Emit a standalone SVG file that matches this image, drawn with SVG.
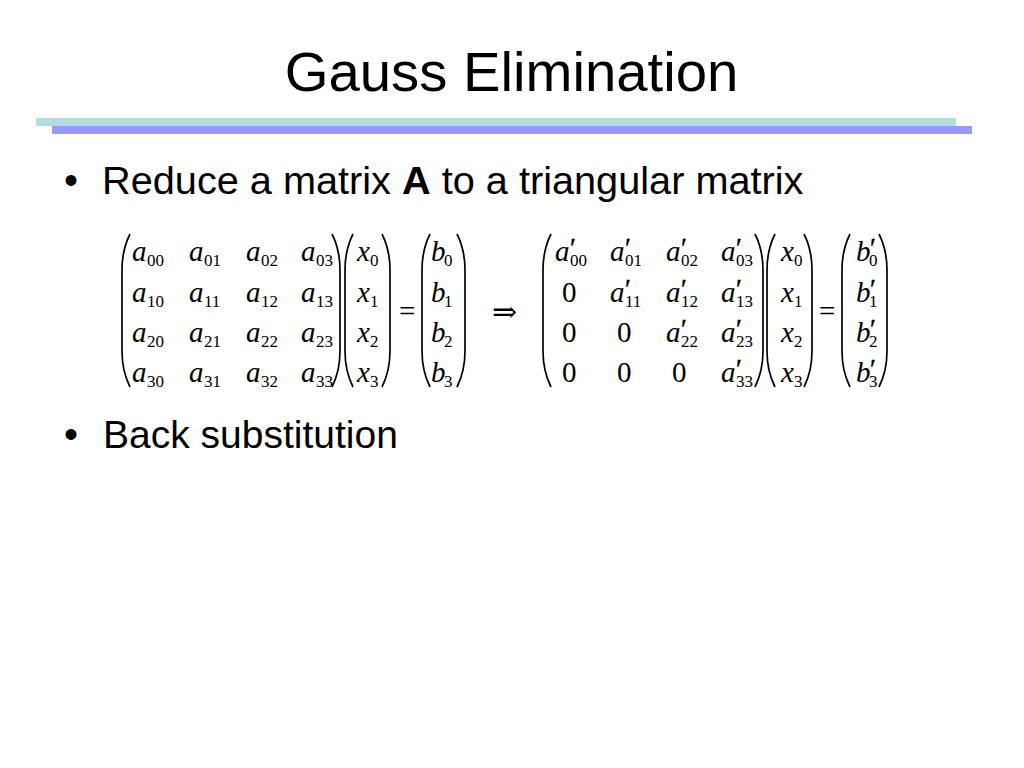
<svg xmlns="http://www.w3.org/2000/svg" width="1024" height="768" viewBox="0 0 1024 768">
<style>
.t{font-family:"Liberation Sans",Arial,sans-serif;fill:#000}
.m{font-family:"Liberation Serif","Times New Roman",serif;font-size:29px;fill:#000}
.i{font-style:italic}
.s{font-family:"Liberation Serif","Times New Roman",serif;font-size:17px;fill:#000}
.p{font-family:"Liberation Serif","DejaVu Serif",serif;font-size:27px;fill:#000;stroke:#000;stroke-width:0.4}
.br{fill:none;stroke:#000;stroke-width:1.7}
</style>
<rect width="1024" height="768" fill="#fff"/>
<rect x="36" y="118" width="920" height="8" fill="#b3dbe0"/>
<rect x="52" y="126" width="920" height="8" fill="#9999f7"/>
<text class="t" x="511.5" y="91" font-size="56.3" text-anchor="middle">Gauss Elimination</text>
<text class="t" x="64" y="194" font-size="40">•</text>
<text class="t" x="102" y="194" font-size="39.7">Reduce a matrix <tspan font-weight="bold">A</tspan> to a triangular matrix</text>
<text class="t" x="64" y="448" font-size="40">•</text>
<text class="t" x="103" y="448" font-size="39">Back substitution</text>

<g id="brackets">
<path class="br" d="M130,234 Q122,250 122,270 L122,351 Q122,371 130,387"/>
<path class="br" d="M332,234 Q340,250 340,270 L340,351 Q340,371 332,387"/>
<path class="br" d="M353,234 Q345,250 345,270 L345,351 Q345,371 353,387"/>
<path class="br" d="M382,234 Q390,250 390,270 L390,351 Q390,371 382,387"/>
<path class="br" d="M430,234 Q422,250 422,270 L422,351 Q422,371 430,387"/>
<path class="br" d="M457,234 Q465,250 465,270 L465,351 Q465,371 457,387"/>
<path class="br" d="M551,234 Q543,250 543,270 L543,351 Q543,371 551,387"/>
<path class="br" d="M755,234 Q763,250 763,270 L763,351 Q763,371 755,387"/>
<path class="br" d="M775,234 Q767,250 767,270 L767,351 Q767,371 775,387"/>
<path class="br" d="M804,234 Q812,250 812,270 L812,351 Q812,371 804,387"/>
<path class="br" d="M850,234 Q842,250 842,270 L842,351 Q842,371 850,387"/>
<path class="br" d="M879,234 Q887,250 887,270 L887,351 Q887,371 879,387"/>
</g>

<g id="matrix-left">
<text class="m i" x="132" y="261">a</text><text class="s" x="147" y="266">00</text>
<text class="m i" x="189" y="261">a</text><text class="s" x="204" y="266">01</text>
<text class="m i" x="246" y="261">a</text><text class="s" x="261" y="266">02</text>
<text class="m i" x="301" y="261">a</text><text class="s" x="316" y="266">03</text>
<text class="m i" x="132" y="302">a</text><text class="s" x="147" y="307">10</text>
<text class="m i" x="189" y="302">a</text><text class="s" x="204" y="307">11</text>
<text class="m i" x="246" y="302">a</text><text class="s" x="261" y="307">12</text>
<text class="m i" x="301" y="302">a</text><text class="s" x="316" y="307">13</text>
<text class="m i" x="132" y="342">a</text><text class="s" x="147" y="347">20</text>
<text class="m i" x="189" y="342">a</text><text class="s" x="204" y="347">21</text>
<text class="m i" x="246" y="342">a</text><text class="s" x="261" y="347">22</text>
<text class="m i" x="301" y="342">a</text><text class="s" x="316" y="347">23</text>
<text class="m i" x="132" y="382">a</text><text class="s" x="147" y="387">30</text>
<text class="m i" x="189" y="382">a</text><text class="s" x="204" y="387">31</text>
<text class="m i" x="246" y="382">a</text><text class="s" x="261" y="387">32</text>
<text class="m i" x="301" y="382">a</text><text class="s" x="316" y="387">33</text>
<text class="m i" x="357" y="261">x</text><text class="s" x="370" y="266">0</text>
<text class="m i" x="357" y="302">x</text><text class="s" x="370" y="307">1</text>
<text class="m i" x="357" y="342">x</text><text class="s" x="370" y="347">2</text>
<text class="m i" x="357" y="382">x</text><text class="s" x="370" y="387">3</text>
<text class="m" x="399" y="321">=</text>
<text class="m i" x="431" y="261">b</text><text class="s" x="444" y="266">0</text>
<text class="m i" x="431" y="302">b</text><text class="s" x="444" y="307">1</text>
<text class="m i" x="431" y="342">b</text><text class="s" x="444" y="347">2</text>
<text class="m i" x="431" y="382">b</text><text class="s" x="444" y="387">3</text>
</g>

<text x="504.5" y="322" text-anchor="middle" font-family="'DejaVu Serif','Liberation Serif',serif" font-size="30" fill="#000">⇒</text>

<g id="matrix-right">
<text class="m i" x="555" y="261">a</text><text class="p" x="570" y="257">′</text><text class="s" x="570" y="266">00</text>
<text class="m i" x="610" y="261">a</text><text class="p" x="625" y="257">′</text><text class="s" x="625" y="266">01</text>
<text class="m i" x="666" y="261">a</text><text class="p" x="681" y="257">′</text><text class="s" x="681" y="266">02</text>
<text class="m i" x="721" y="261">a</text><text class="p" x="736" y="257">′</text><text class="s" x="736" y="266">03</text>
<text class="m" x="562" y="302">0</text>
<text class="m i" x="610" y="302">a</text><text class="p" x="625" y="298">′</text><text class="s" x="625" y="307">11</text>
<text class="m i" x="666" y="302">a</text><text class="p" x="681" y="298">′</text><text class="s" x="681" y="307">12</text>
<text class="m i" x="721" y="302">a</text><text class="p" x="736" y="298">′</text><text class="s" x="736" y="307">13</text>
<text class="m" x="562" y="342">0</text>
<text class="m" x="617" y="342">0</text>
<text class="m i" x="666" y="342">a</text><text class="p" x="681" y="338">′</text><text class="s" x="681" y="347">22</text>
<text class="m i" x="721" y="342">a</text><text class="p" x="736" y="338">′</text><text class="s" x="736" y="347">23</text>
<text class="m" x="562" y="382">0</text>
<text class="m" x="617" y="382">0</text>
<text class="m" x="672" y="382">0</text>
<text class="m i" x="721" y="382">a</text><text class="p" x="736" y="378">′</text><text class="s" x="736" y="387">33</text>
<text class="m i" x="781" y="261">x</text><text class="s" x="794" y="266">0</text>
<text class="m i" x="781" y="302">x</text><text class="s" x="794" y="307">1</text>
<text class="m i" x="781" y="342">x</text><text class="s" x="794" y="347">2</text>
<text class="m i" x="781" y="382">x</text><text class="s" x="794" y="387">3</text>
<text class="m" x="819" y="321">=</text>
<text class="m i" x="856" y="261">b</text><text class="p" x="870" y="257">′</text><text class="s" x="869" y="266">0</text>
<text class="m i" x="856" y="302">b</text><text class="p" x="870" y="298">′</text><text class="s" x="869" y="307">1</text>
<text class="m i" x="856" y="342">b</text><text class="p" x="870" y="338">′</text><text class="s" x="869" y="347">2</text>
<text class="m i" x="856" y="382">b</text><text class="p" x="870" y="378">′</text><text class="s" x="869" y="387">3</text>
</g>
</svg>
